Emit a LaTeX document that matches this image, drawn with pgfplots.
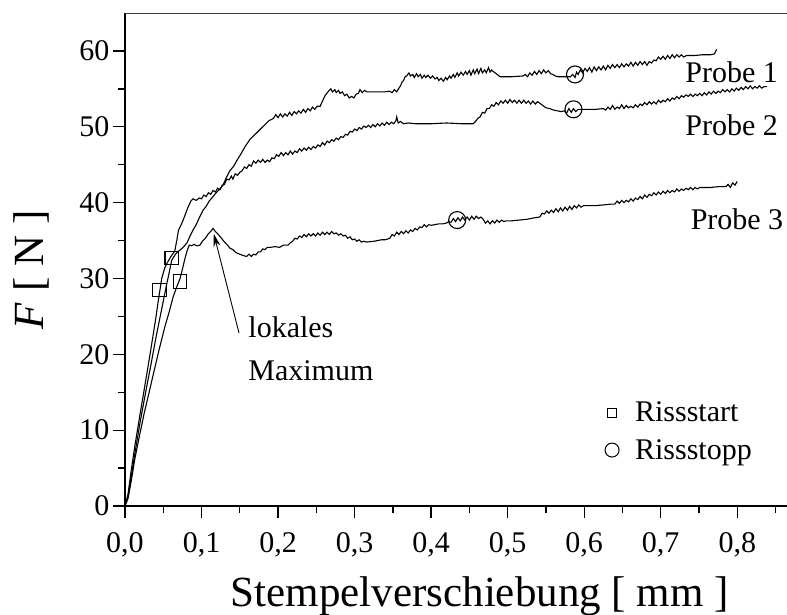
\documentclass[border=0pt]{standalone}
\usepackage{fontspec}
\setmainfont{Liberation Serif}
\usepackage{pgfplots}
\pgfplotsset{compat=1.18}
\usetikzlibrary{arrows.meta}
\begin{document}
\begin{tikzpicture}
\begin{axis}[
  scale only axis, width=662pt, height=493pt,
  xmin=0, xmax=0.865, ymin=0, ymax=65,
  axis x line*=bottom, axis y line*=left,
  axis line style={line width=1.3pt},
  clip=false,
  xtick={0,0.1,...,0.81},
  minor xtick={0.05,0.15,...,0.86},
  ytick={0,10,...,60},
  minor ytick={5,15,...,55},
  tick align=outside,
  major tick length=12pt, minor tick length=7pt,
  every tick/.style={black, line width=1.3pt},
  /pgf/number format/assume math mode=true,
  tick label style={font=\fontsize{30}{36}\selectfont},
  xticklabel style={yshift=-11pt, /pgf/number format/.cd, use comma, fixed, fixed zerofill, precision=1},
  xlabel={Stempelverschiebung [ mm ]},
  ylabel={\textit{F} [ N ]},
  label style={font=\fontsize{43}{50}\selectfont},
  xlabel style={at={(axis description cs:0.536,-0.203)}, anchor=base},
  ylabel style={at={(axis description cs:-0.1224,0.479)}, anchor=base, rotate=0},
  legend style={draw=none, fill=none, at={(axis cs:0.627,14.0)}, anchor=north west,
    font=\fontsize{30}{36}\selectfont, row sep=12pt, inner sep=0pt,
    /tikz/column 1/.style={column sep=14pt}},
  legend cell align=left,
]
% Probe 1
\addplot[black, line width=1.1pt, forget plot] coordinates {
(0,0) (0.004,1.3) (0.008,3.8) (0.013,7.0) (0.020,11.2) (0.027,15.0) (0.034,18.7) (0.041,22.5)
(0.048,26.0) (0.054,29.0) (0.058,30.9) (0.061,32.4) (0.066,33.2) (0.070,33.6) (0.075,34.0)
(0.081,34.7) (0.085,35.6) (0.089,36.4) (0.093,37.1) (0.098,38.2) (0.102,39.0) (0.106,39.5)
(0.110,40.2) (0.115,40.8) (0.120,41.4) (0.124,41.8) (0.128,42.3) (0.132,43.2) (0.137,44.2)
(0.142,44.8) (0.147,45.7) (0.152,46.5) (0.157,47.4) (0.163,48.3) (0.169,48.9) (0.176,49.6)
(0.182,50.2) (0.188,50.8) (0.194,51.1)
(0.197,51.6) (0.200,51.2) (0.203,51.7) (0.206,51.3) (0.209,51.7) (0.212,51.4) (0.215,51.9)
(0.218,51.5) (0.221,52.0) (0.224,51.7) (0.227,52.1) (0.230,51.8) (0.233,52.3) (0.236,51.9)
(0.239,52.4) (0.242,52.1) (0.245,52.6) (0.248,52.3) (0.251,52.7) (0.255,52.7) (0.259,53.6)
(0.262,54.2) (0.266,54.7) (0.269,55.0) (0.271,54.6) (0.274,54.9) (0.276,54.5) (0.279,54.8)
(0.281,54.4) (0.284,54.6) (0.287,54.1) (0.290,54.3) (0.293,53.8) (0.296,54.0) (0.299,53.8)
(0.302,54.3) (0.305,54.4) (0.307,54.9) (0.310,54.5) (0.313,54.8) (0.316,54.6) (0.320,54.6)
(0.330,54.6) (0.340,54.6) (0.345,54.7) (0.349,54.5) (0.352,54.9) (0.355,54.6) (0.358,55.1)
(0.360,55.4) (0.362,55.9) (0.364,56.1) (0.366,56.6) (0.368,56.7) (0.371,57.1) (0.373,56.7)
(0.376,56.9) (0.378,56.5) (0.381,57.0) (0.383,56.6) (0.386,56.9) (0.388,56.4) (0.391,56.8)
(0.393,56.5) (0.396,56.8) (0.399,56.4) (0.402,56.7) (0.405,56.3) (0.408,56.5) (0.410,56.1)
(0.413,56.4) (0.416,56.0) (0.419,56.5) (0.421,56.2) (0.424,56.7) (0.426,56.4) (0.429,56.9)
(0.431,56.5) (0.434,57.1) (0.436,56.7) (0.439,57.2) (0.442,56.8) (0.445,57.3) (0.447,56.9)
(0.450,57.4) (0.452,56.8) (0.455,57.5) (0.457,57.0) (0.460,57.6) (0.462,57.0) (0.465,57.7)
(0.467,57.1) (0.470,57.5) (0.472,57.1) (0.475,57.8) (0.477,57.2) (0.479,57.5) (0.481,57.3)
(0.485,57.0) (0.490,56.6) (0.505,56.6) (0.520,56.7)
(0.523,56.9) (0.526,56.6) (0.529,57.1) (0.532,56.8) (0.535,57.3) (0.538,56.9) (0.541,57.4)
(0.544,57.0) (0.547,57.5) (0.550,57.1) (0.553,57.4) (0.556,57.0) (0.559,56.9) (0.562,56.7)
(0.566,56.6) (0.575,56.6) (0.582,56.6) (0.585,56.9) (0.588,56.5) (0.590,57.2) (0.592,56.9)
(0.595,57.5) (0.598,57.1) (0.601,57.7) (0.604,57.3) (0.607,57.8) (0.610,57.2) (0.613,57.9)
(0.616,57.4) (0.619,57.9) (0.622,57.5) (0.625,58.0) (0.628,57.5) (0.631,58.1) (0.634,57.7)
(0.637,58.2) (0.640,57.8) (0.643,58.2) (0.646,57.8) (0.649,58.3) (0.652,57.9) (0.655,58.3)
(0.658,58.0) (0.661,58.5) (0.664,58.0) (0.667,58.5) (0.670,58.1) (0.673,58.6) (0.676,58.2)
(0.679,58.6) (0.682,58.1) (0.685,58.6) (0.688,58.4) (0.691,58.8) (0.694,58.7) (0.697,59.2)
(0.700,58.9) (0.703,59.3) (0.706,58.9) (0.709,59.4) (0.712,59.0) (0.715,59.5) (0.718,59.1)
(0.721,59.5) (0.724,59.2) (0.727,59.5) (0.730,59.2) (0.734,59.4) (0.745,59.4) (0.755,59.5)
(0.765,59.5) (0.770,59.6) (0.773,60.2)
};
% Probe 2
\addplot[black, line width=1.1pt, forget plot] coordinates {
(0,0) (0.004,1.6) (0.008,4.6) (0.013,8.0) (0.020,12.3) (0.027,16.5) (0.034,20.8) (0.040,24.6)
(0.044,27.4) (0.048,30.0) (0.052,31.4) (0.056,32.2) (0.060,32.9) (0.065,33.6) (0.068,35.2)
(0.070,36.4) (0.073,37.0) (0.076,37.7) (0.079,38.5) (0.082,39.3) (0.086,40.2) (0.089,40.5)
(0.093,40.3) (0.097,40.6)
(0.100,40.5) (0.103,41.0) (0.106,40.8) (0.109,41.3) (0.112,41.1) (0.115,41.6) (0.118,41.4)
(0.121,41.9) (0.124,41.7) (0.127,42.3) (0.130,42.4) (0.133,43.1) (0.136,43.0) (0.139,43.5)
(0.141,43.1) (0.144,43.8) (0.147,43.6) (0.150,44.0) (0.153,44.2) (0.156,44.7) (0.159,44.5)
(0.162,45.0) (0.165,44.8) (0.168,45.5) (0.171,45.2) (0.174,45.6) (0.177,45.3) (0.180,45.7)
(0.183,45.3) (0.186,45.6) (0.189,45.4) (0.192,45.9) (0.195,45.8) (0.198,46.3) (0.201,46.1)
(0.204,46.6) (0.207,46.2) (0.210,46.6) (0.213,46.3) (0.216,46.8) (0.219,46.4) (0.222,46.8)
(0.225,46.6) (0.228,47.1) (0.231,46.8) (0.234,47.2) (0.237,46.9) (0.240,47.3) (0.243,47.0)
(0.246,47.4) (0.249,47.2) (0.252,47.6) (0.255,47.4) (0.258,47.9) (0.261,47.6) (0.264,48.1)
(0.267,47.9) (0.270,48.3) (0.273,48.1) (0.276,48.5) (0.279,48.3) (0.282,48.7) (0.285,48.6)
(0.288,49.0) (0.291,48.9) (0.294,49.4) (0.297,49.3) (0.300,49.7) (0.303,49.5) (0.306,49.9)
(0.309,49.7) (0.312,50.1) (0.315,49.9) (0.318,50.2) (0.321,49.9) (0.324,50.3) (0.327,50.0)
(0.330,50.4) (0.333,50.1) (0.336,50.5) (0.339,50.2) (0.342,50.6) (0.345,50.3) (0.348,50.6)
(0.351,50.4) (0.354,50.8) (0.355,51.3) (0.357,50.5) (0.360,50.7) (0.364,50.4) (0.370,50.5)
(0.380,50.4) (0.400,50.4) (0.420,50.5) (0.440,50.4) (0.455,50.4)
(0.458,50.7) (0.461,51.1) (0.464,51.3) (0.467,51.9) (0.470,51.8) (0.473,52.4) (0.476,52.4)
(0.479,52.9) (0.482,52.7) (0.485,53.2) (0.488,52.9) (0.491,53.4) (0.494,53.1) (0.497,53.5)
(0.500,53.1) (0.503,53.6) (0.506,53.2) (0.509,53.5) (0.512,53.1) (0.515,53.5) (0.518,53.1)
(0.521,53.5) (0.524,53.1) (0.527,53.4) (0.530,53.0) (0.533,53.4) (0.536,53.0) (0.539,53.3)
(0.542,53.1) (0.546,52.8) (0.550,52.5) (0.555,52.4) (0.560,52.2) (0.565,52.1) (0.570,52.0)
(0.574,52.1) (0.577,51.8) (0.580,52.4) (0.583,51.9) (0.586,52.4) (0.589,52.0) (0.592,52.3)
(0.600,52.3) (0.615,52.3) (0.625,52.4)
(0.628,52.2) (0.631,52.6) (0.634,52.3) (0.637,52.8) (0.640,52.3) (0.643,52.6) (0.646,52.4)
(0.649,52.9) (0.652,52.4) (0.655,52.8) (0.658,52.5) (0.661,52.7) (0.664,52.5) (0.667,52.9)
(0.670,52.6) (0.673,53.0) (0.676,52.8) (0.679,53.2) (0.682,52.9) (0.685,53.3) (0.688,53.0)
(0.691,53.3) (0.694,53.0) (0.697,53.5) (0.700,53.2) (0.703,53.5) (0.706,53.3) (0.709,53.7)
(0.712,53.4) (0.715,53.8) (0.718,53.6) (0.721,54.0) (0.724,53.7) (0.727,54.1) (0.730,53.9)
(0.733,54.2) (0.736,54.0) (0.739,54.3) (0.742,54.0) (0.745,54.3) (0.748,54.1) (0.751,54.4)
(0.754,54.1) (0.757,54.5) (0.760,54.2) (0.763,54.6) (0.766,54.3) (0.769,54.7) (0.772,54.4)
(0.775,54.7) (0.778,54.5) (0.781,54.9) (0.784,54.6) (0.787,54.9) (0.790,54.6) (0.793,55.0)
(0.796,54.7) (0.799,55.1) (0.802,54.8) (0.805,55.2) (0.808,54.9) (0.811,55.3) (0.814,55.0)
(0.817,55.4) (0.820,55.0) (0.823,55.3) (0.826,55.1) (0.829,55.4) (0.832,55.1) (0.835,55.3)
(0.839,55.3)
};
% Probe 3
\addplot[black, line width=1.1pt, forget plot] coordinates {
(0,0) (0.004,1.0) (0.008,3.2) (0.013,6.3) (0.018,8.8) (0.025,12.2) (0.032,15.2) (0.038,17.8)
(0.045,20.8) (0.052,23.6) (0.058,25.7) (0.063,27.6) (0.068,29.0) (0.072,30.0) (0.075,31.2)
(0.078,32.5) (0.081,33.6) (0.084,34.4) (0.087,34.3) (0.090,34.5) (0.094,34.3) (0.098,34.4)
(0.101,34.9) (0.105,35.3) (0.109,35.9) (0.112,36.2) (0.115,36.6) (0.118,36.2) (0.122,35.8)
(0.126,35.3) (0.130,34.8) (0.134,34.4) (0.137,34.0) (0.141,33.8) (0.145,33.4) (0.150,33.2)
(0.155,33.0) (0.159,32.9) (0.162,33.2) (0.165,32.9) (0.168,33.2) (0.171,33.1) (0.174,33.5)
(0.177,33.5) (0.180,33.9) (0.183,33.8) (0.186,34.1) (0.190,34.1) (0.196,34.2) (0.202,34.1)
(0.207,34.4) (0.213,34.4) (0.216,34.7) (0.219,34.9) (0.222,35.3) (0.225,35.2) (0.228,35.6)
(0.231,35.4) (0.234,35.8) (0.237,35.5) (0.240,35.9) (0.243,35.6) (0.246,35.9) (0.249,35.6)
(0.252,36.0) (0.255,35.7) (0.258,36.1) (0.261,35.8) (0.264,36.1) (0.267,35.8) (0.270,36.2)
(0.273,35.9) (0.276,36.0) (0.279,35.7) (0.282,35.9) (0.285,35.6) (0.288,35.7) (0.291,35.3)
(0.294,35.5) (0.297,35.1) (0.300,35.2) (0.303,34.9) (0.306,35.1) (0.309,34.8) (0.312,34.9)
(0.316,34.8) (0.325,34.9) (0.335,35.1) (0.340,35.1) (0.346,35.3)
(0.349,35.8) (0.352,35.6) (0.355,36.1) (0.358,35.8) (0.361,36.2) (0.364,35.9) (0.367,36.3)
(0.370,36.0) (0.373,36.4) (0.376,36.2) (0.379,36.6) (0.382,36.4) (0.385,36.8) (0.388,36.7)
(0.391,37.1) (0.394,36.8) (0.397,37.1) (0.400,37.0) (0.405,37.1) (0.410,37.2) (0.415,37.2)
(0.420,37.3) (0.423,37.5) (0.426,37.4) (0.429,37.9) (0.432,37.5) (0.435,38.0) (0.438,37.6)
(0.441,38.1) (0.444,37.7) (0.447,38.1) (0.450,37.7) (0.453,38.2) (0.456,37.8) (0.459,38.2)
(0.462,37.9) (0.465,38.1) (0.468,37.8) (0.471,37.3) (0.474,37.6) (0.477,37.2) (0.480,37.6)
(0.483,37.3) (0.486,37.7) (0.489,37.4) (0.492,37.7) (0.495,37.5) (0.498,37.6) (0.505,37.6)
(0.515,37.7) (0.525,37.8) (0.535,38.0) (0.542,38.1) (0.545,38.6) (0.548,38.5) (0.551,38.9)
(0.554,38.6) (0.557,39.0) (0.560,38.7) (0.563,39.2) (0.566,38.8) (0.569,39.3) (0.572,38.9)
(0.575,39.4) (0.578,39.0) (0.581,39.5) (0.584,39.1) (0.587,39.6) (0.590,39.3) (0.593,39.7)
(0.596,39.4) (0.599,39.6) (0.605,39.6) (0.615,39.6) (0.625,39.7) (0.635,39.8) (0.640,39.8)
(0.643,40.2) (0.646,39.9) (0.649,40.3) (0.652,40.0) (0.655,40.3) (0.658,40.1) (0.661,40.5)
(0.664,40.2) (0.667,40.6) (0.670,40.4) (0.673,40.8) (0.676,40.5) (0.679,41.0) (0.682,40.7)
(0.685,41.1) (0.688,40.9) (0.691,41.3) (0.694,41.0) (0.697,41.4) (0.700,41.1) (0.703,41.5)
(0.706,41.2) (0.709,41.6) (0.712,41.3) (0.715,41.6) (0.718,41.4) (0.721,41.8) (0.724,41.5)
(0.727,41.8) (0.730,41.6) (0.733,41.9) (0.736,41.7) (0.739,42.0) (0.742,41.7) (0.745,42.0)
(0.748,41.8) (0.751,42.0) (0.757,42.0) (0.765,42.0) (0.775,42.1) (0.785,42.1) (0.788,42.4)
(0.791,42.0) (0.794,42.6) (0.797,42.3) (0.800,42.8)
};
% Rissstart
\addplot[only marks, mark=square, mark size=6.7pt, mark options={line width=1.1pt, fill=none}, forget plot] coordinates {
(0.045,28.5) (0.061,32.7) (0.072,29.6)
};
% Rissstopp
\addplot[only marks, mark=o, mark size=8.5pt, mark options={line width=1.1pt, fill=none}, forget plot] coordinates {
(0.588,56.9) (0.586,52.3) (0.434,37.7)
};
\addlegendimage{only marks, mark=square, mark size=4.5pt, mark options={line width=1pt, fill=none}}
\addlegendentry{Rissstart}
\addlegendimage{only marks, mark=o, mark size=7pt, mark options={line width=1pt, fill=none}}
\addlegendentry{Rissstopp}
\draw[black!75, line width=1pt] (axis description cs:0,1) -- (axis description cs:1,1);
\node[anchor=base west, font=\fontsize{30}{36}\selectfont, inner sep=0pt] at (axis cs:0.732,55.9) {Probe 1};
\node[anchor=base west, font=\fontsize{30}{36}\selectfont, inner sep=0pt] at (axis cs:0.732,48.9) {Probe 2};
\node[anchor=base west, font=\fontsize{30}{36}\selectfont, inner sep=0pt] at (axis cs:0.739,36.4) {Probe 3};
\node[anchor=base west, font=\fontsize{30}{36}\selectfont, inner sep=0pt] at (axis cs:0.161,22.2) {lokales};
\node[anchor=base west, font=\fontsize{30}{36}\selectfont, inner sep=0pt] at (axis cs:0.161,16.6) {Maximum};
\draw[line width=0.9pt, -{Stealth[length=13pt,width=7pt]}] (axis cs:0.149,22.8) -- (axis cs:0.116,35.9);
\end{axis}
\pgfresetboundingbox
\path[use as bounding box] (-125pt,-108pt) rectangle (662pt,506pt);
\end{tikzpicture}
\end{document}
